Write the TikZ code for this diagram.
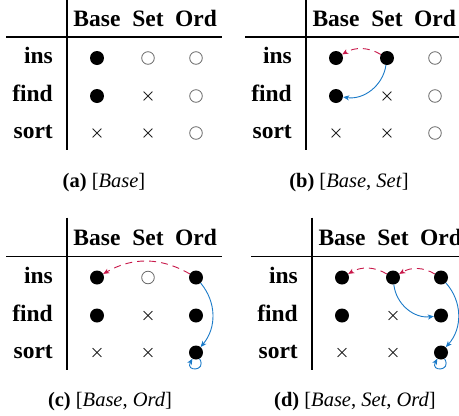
\documentclass[tikz,border=0pt]{standalone}
\usepackage{fontspec}
\setmainfont{Liberation Serif}
\usetikzlibrary{arrows.meta,shapes.misc}

\definecolor{revred}{RGB}{200,24,74}
\definecolor{revblue}{RGB}{26,122,200}

\tikzset{
  full/.style={circle,fill=black,inner sep=0pt,minimum size=14pt},
  hollow/.style={circle,draw=black!60,line width=0.8pt,inner sep=0pt,minimum size=12.6pt},
  nope/.style={cross out,draw=black!85,line width=0.8pt,inner sep=0pt,minimum size=8pt},
  tablerule/.style={line width=1.3pt},
  hdr/.style={font=\fontsize{23.5}{28}\selectfont\bfseries,anchor=base,inner sep=0pt},
  lbl/.style={font=\fontsize{23.5}{28}\selectfont\bfseries,anchor=base east,inner sep=0pt},
  captxt/.style={font=\fontsize{20.5}{24}\selectfont,anchor=base,inner sep=0pt},
  headtip/.style={-{Stealth[length=6pt,width=5pt,inset=1.6pt]}},
  fwd/.style={revred,line width=0.9pt,dash pattern=on 7pt off 5pt,headtip},
  backarr/.style={revblue,line width=0.9pt,headtip},
}

% frame, headers, row labels and caption of one table
\newcommand\tableframe[3]{%
  \draw[tablerule] (67,2) -- (67,-150);
  \draw[tablerule] (6,-37) -- (222,-37);
  \node[hdr] (#1-hb) at (97,-26) {Base};
  \node[hdr] (#1-hs) at (148,-26) {Set};
  \node[hdr] (#1-ho) at (196,-26) {Ord};
  \node[lbl] (#1-li) at (53,-63.5) {ins};
  \node[lbl] (#1-lf) at (53,-101.5) {find};
  \node[lbl] (#1-ls) at (53,-138.5) {sort};
  \node[captxt] (#1-cap) at (#2,-187) {\textbf{(#1)} [#3]};
}

\begin{document}
\begin{tikzpicture}[x=1pt,y=1pt]
\useasboundingbox (0,0) rectangle (459,-416);

% (a)
\begin{scope}
  \tableframe{a}{104}{\textit{Base}}
  \node[full]   (a-ib) at (97,-58) {};
  \node[hollow] (a-is) at (148,-58) {};
  \node[hollow] (a-io) at (196,-58) {};
  \node[full]   (a-fb) at (97,-96) {};
  \node[nope]   (a-fs) at (148,-96) {};
  \node[hollow] (a-fo) at (196,-96) {};
  \node[nope]   (a-sb) at (97,-133) {};
  \node[nope]   (a-ss) at (148,-133) {};
  \node[hollow] (a-so) at (196,-133) {};
\end{scope}

% (b)
\begin{scope}[shift={(239,0)}]
  \tableframe{b}{110}{\textit{Base}, \textit{Set}}
  \node[full]   (b-ib) at (97,-58) {};
  \node[full]   (b-is) at (148,-58) {};
  \node[hollow] (b-io) at (196,-58) {};
  \node[full]   (b-fb) at (97,-96) {};
  \node[nope]   (b-fs) at (148,-96) {};
  \node[hollow] (b-fo) at (196,-96) {};
  \node[nope]   (b-sb) at (97,-133) {};
  \node[nope]   (b-ss) at (148,-133) {};
  \node[hollow] (b-so) at (196,-133) {};
  \draw[fwd]     (b-is) to[bend right=30] (b-ib);
  \draw[backarr] (b-is) to[bend left=45] (b-fb);
\end{scope}

% (c)
\begin{scope}[shift={(0,-219.5)}]
  \tableframe{c}{110}{\textit{Base}, \textit{Ord}}
  \node[full]   (c-ib) at (97,-58) {};
  \node[hollow] (c-is) at (148,-58) {};
  \node[full]   (c-io) at (196,-58) {};
  \node[full]   (c-fb) at (97,-96) {};
  \node[nope]   (c-fs) at (148,-96) {};
  \node[full]   (c-fo) at (196,-96) {};
  \node[nope]   (c-sb) at (97,-133) {};
  \node[nope]   (c-ss) at (148,-133) {};
  \node[full]   (c-so) at (196,-133) {};
  \draw[fwd]     (c-io) to[bend right=30] (c-ib);
  \draw[backarr] (c-io) to[bend left=40] (c-so);
  \draw[backarr] (c-so) to[out=-60,in=-120,min distance=15pt] (c-so);
\end{scope}

% (d)
\begin{scope}[shift={(245,-219.5)}]
  \tableframe{d}{110}{\textit{Base}, \textit{Set}, \textit{Ord}}
  \node[full]   (d-ib) at (97,-58) {};
  \node[full]   (d-is) at (148,-58) {};
  \node[full]   (d-io) at (196,-58) {};
  \node[full]   (d-fb) at (97,-96) {};
  \node[nope]   (d-fs) at (148,-96) {};
  \node[full]   (d-fo) at (196,-96) {};
  \node[nope]   (d-sb) at (97,-133) {};
  \node[nope]   (d-ss) at (148,-133) {};
  \node[full]   (d-so) at (196,-133) {};
  \draw[fwd]     (d-io) to[bend right=30] (d-is);
  \draw[fwd]     (d-is) to[bend right=30] (d-ib);
  \draw[backarr] (d-is) to[bend right=45] (d-fo);
  \draw[backarr] (d-io) to[bend left=42] (d-so);
  \draw[backarr] (d-so) to[out=-60,in=-120,min distance=15pt] (d-so);
\end{scope}
\end{tikzpicture}
\end{document}
